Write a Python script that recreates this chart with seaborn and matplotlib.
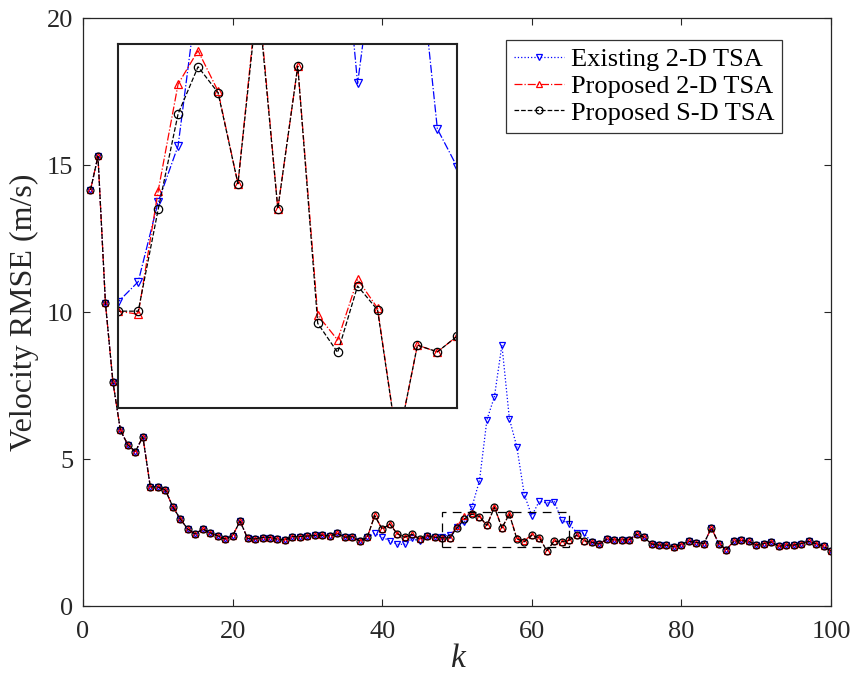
import matplotlib
matplotlib.use("Agg")
import matplotlib.pyplot as plt
from matplotlib.patches import Rectangle
import seaborn as sns
import pandas as pd

k = list(range(1, 101))

existing_2d = [14.15, 15.3, 10.3, 7.62, 5.98, 5.48, 5.25, 5.76, 4.05, 4.05,
               3.95, 3.38, 2.96, 2.62, 2.45, 2.62, 2.49, 2.39, 2.28, 2.39,
               2.89, 2.30, 2.28, 2.33, 2.33, 2.27, 2.25, 2.36, 2.36, 2.38,
               2.40, 2.41, 2.38, 2.47, 2.34, 2.36, 2.21, 2.34, 2.47, 2.34,
               2.22, 2.10, 2.10, 2.30, 2.20, 2.37, 2.34, 2.351, 2.417, 2.68,
               2.865, 3.38, 4.26, 6.34, 7.12, 8.88, 6.37, 5.41, 3.78, 3.07,
               3.57, 3.50, 3.55, 2.92, 2.794, 2.49, 2.47, 2.17, 2.11, 2.27,
               2.25, 2.25, 2.25, 2.44, 2.34, 2.11, 2.07, 2.07, 2.01, 2.09,
               2.20, 2.16, 2.12, 2.66, 2.12, 1.92, 2.20, 2.23, 2.20, 2.07,
               2.12, 2.18, 2.03, 2.07, 2.07, 2.12, 2.20, 2.12, 2.03, 1.87]

proposed_2d = [14.15, 15.3, 10.3, 7.62, 5.98, 5.48, 5.25, 5.76, 4.05, 4.05,
               3.95, 3.38, 2.96, 2.62, 2.45, 2.62, 2.49, 2.39, 2.28, 2.39,
               2.89, 2.30, 2.28, 2.33, 2.33, 2.27, 2.25, 2.36, 2.36, 2.38,
               2.40, 2.41, 2.38, 2.47, 2.34, 2.36, 2.21, 2.34, 3.08, 2.61,
               2.79, 2.46, 2.34, 2.44, 2.28, 2.39, 2.34, 2.32, 2.31, 2.716,
               3.068, 3.178, 3.045, 2.74, 3.38, 2.657, 3.127, 2.307, 2.225, 2.425,
               2.33, 1.88, 2.208, 2.186, 2.238, 2.41, 2.22, 2.17, 2.11, 2.27,
               2.25, 2.25, 2.25, 2.44, 2.34, 2.11, 2.07, 2.07, 2.01, 2.09,
               2.20, 2.16, 2.12, 2.66, 2.12, 1.92, 2.20, 2.23, 2.20, 2.07,
               2.12, 2.18, 2.03, 2.07, 2.07, 2.12, 2.20, 2.12, 2.03, 1.87]

proposed_sd = [14.15, 15.3, 10.3, 7.62, 5.98, 5.48, 5.25, 5.76, 4.05, 4.05,
               3.95, 3.38, 2.96, 2.62, 2.45, 2.62, 2.49, 2.39, 2.28, 2.39,
               2.89, 2.30, 2.28, 2.33, 2.33, 2.27, 2.25, 2.36, 2.36, 2.38,
               2.40, 2.41, 2.38, 2.47, 2.34, 2.36, 2.21, 2.34, 3.08, 2.61,
               2.79, 2.46, 2.34, 2.44, 2.28, 2.39, 2.34, 2.32, 2.32, 2.655,
               2.97, 3.125, 3.04, 2.74, 3.36, 2.657, 3.127, 2.28, 2.184, 2.403,
               2.324, 1.88, 2.208, 2.186, 2.238, 2.41, 2.22, 2.17, 2.11, 2.27,
               2.25, 2.25, 2.25, 2.44, 2.34, 2.11, 2.07, 2.07, 2.01, 2.09,
               2.20, 2.16, 2.12, 2.66, 2.12, 1.92, 2.20, 2.23, 2.20, 2.07,
               2.12, 2.18, 2.03, 2.07, 2.07, 2.12, 2.20, 2.12, 2.03, 1.87]

labels = ["Existing 2-D TSA", "Proposed 2-D TSA", "Proposed S-D TSA"]
x_ticks = [0, 20, 40, 60, 80, 100]
y_ticks = [0, 5, 10, 15, 20]
zoom_box = (48, 65, 2.0, 3.2)

sns.set_style("ticks")
plt.rcParams["font.family"] = ["Liberation Serif", "DejaVu Serif"]
plt.rcParams["xtick.direction"] = "in"
plt.rcParams["ytick.direction"] = "in"

fig = plt.figure(figsize=(8.54, 6.81), dpi=100)
ax = fig.add_axes([0.0972, 0.1101, 0.8759, 0.8634])

series = [
    (existing_2d, labels[0], "#0000ff", ":", "v"),
    (proposed_2d, labels[1], "#ff0000", "-.", "^"),
    (proposed_sd, labels[2], "#000000", "--", "o"),
]
inset_styles = ["-.", "-.", "--"]

for vals, lab, col, ls, mk in series:
    df = pd.DataFrame({"k": k, "v": vals})
    sns.lineplot(data=df, x="k", y="v", ax=ax, color=col, linestyle=ls,
                 marker=mk, markersize=5, markerfacecolor="none",
                 markeredgecolor=col, markeredgewidth=0.9, linewidth=0.9,
                 label=lab, sort=False, estimator=None)

ax.set_xlim(0, 100)
ax.set_ylim(0, 20)
ax.set_xticks(x_ticks)
ax.set_yticks(y_ticks)
ax.tick_params(labelsize=19, length=5, width=0.8, colors="#262626",
               top=True, right=True, pad=7)
ax.tick_params(axis="x", pad=11)
for s in ax.spines.values():
    s.set_visible(True)
    s.set_color("#262626")
    s.set_linewidth(0.9)
ax.set_xlabel("k", fontsize=24, style="italic", color="#262626", labelpad=0)
ax.set_ylabel("Velocity RMSE (m/s)", fontsize=23, color="#262626", labelpad=6)

ax.add_patch(Rectangle((zoom_box[0], zoom_box[2]), zoom_box[1] - zoom_box[0],
                       zoom_box[3] - zoom_box[2], fill=False, linestyle=(0, (7, 5)),
                       edgecolor="black", linewidth=0.9, zorder=5))

leg = ax.legend(loc="upper right", bbox_to_anchor=(0.9345, 0.9626), fontsize=19,
                frameon=True, fancybox=False, framealpha=1, edgecolor="#333333",
                handlelength=1.9, handletextpad=0.25, labelspacing=0.12,
                borderpad=0.3, borderaxespad=0)
leg.get_frame().set_linewidth(0.9)
for t in leg.get_texts():
    t.set_color("black")

axin = fig.add_axes([0.1385, 0.4004, 0.3970, 0.5350])
for (vals, lab, col, ls, mk), ils in zip(series, inset_styles):
    df = pd.DataFrame({"k": k, "v": vals})
    sns.lineplot(data=df, x="k", y="v", ax=axin, color=col, linestyle=ils,
                 marker=mk, markersize=6, markerfacecolor="none",
                 markeredgecolor=col, markeredgewidth=0.9, linewidth=0.9,
                 sort=False, estimator=None, legend=False)
axin.set_xlim(zoom_box[0], zoom_box[1])
axin.set_ylim(zoom_box[2], zoom_box[3])
axin.set_xticks([])
axin.set_yticks([])
axin.set_xlabel("")
axin.set_ylabel("")
axin.set_facecolor("white")
for s in axin.spines.values():
    s.set_visible(True)
    s.set_color("#222222")
    s.set_linewidth(1.5)

fig.savefig("out.png", dpi=100)
